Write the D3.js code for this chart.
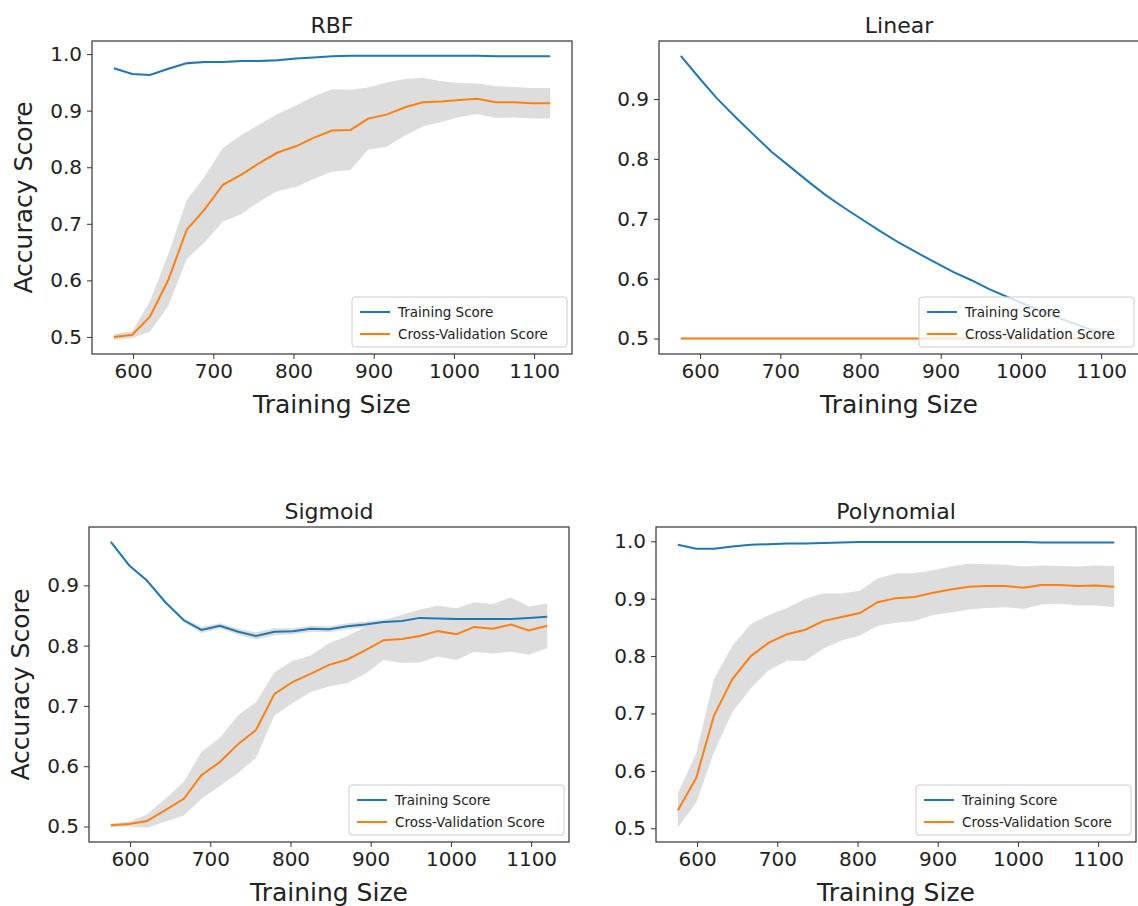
<!DOCTYPE html>
<html>
<head>
<meta charset="utf-8">
<title>Learning curves by kernel</title>
<script src="https://d3js.org/d3.v7.min.js"></script>
<style>
  body { margin: 0; background: #fff; }
  svg text { font-family: "DejaVu Sans", sans-serif; fill: #222; }
</style>
</head>
<body>
<svg width="1138" height="906"></svg>
<script>
// training sizes shared by all four panels
const trainSizes = [576, 599, 621, 644, 667, 689, 712, 735, 757, 780, 803, 825, 848,
                    871, 893, 916, 939, 961, 984, 1007, 1029, 1052, 1075, 1097, 1120];

const seriesNames = ["Training Score", "Cross-Validation Score"];

// RBF
const rbfTrain    = [0.975, 0.965, 0.963, 0.974, 0.984, 0.986, 0.986, 0.988, 0.988, 0.989, 0.992, 0.994, 0.996,
                     0.997, 0.997, 0.997, 0.997, 0.997, 0.997, 0.997, 0.997, 0.996, 0.996, 0.996, 0.996];
const rbfTrainStd = [0.001, 0.001, 0.001, 0.002, 0.003, 0.002, 0.002, 0.002, 0.002, 0.002, 0.001, 0.001, 0.001,
                     0.001, 0.001, 0.001, 0.001, 0.001, 0.001, 0.001, 0.001, 0.001, 0.001, 0.001, 0.001];
const rbfCv       = [0.500, 0.504, 0.536, 0.601, 0.690, 0.725, 0.769, 0.787, 0.807, 0.826, 0.837, 0.852, 0.865,
                     0.866, 0.886, 0.893, 0.906, 0.915, 0.916, 0.919, 0.921, 0.915, 0.915, 0.913, 0.913];
const rbfCvStd    = [0.005, 0.006, 0.027, 0.046, 0.052, 0.058, 0.065, 0.070, 0.068, 0.068, 0.072, 0.073, 0.073,
                     0.071, 0.055, 0.057, 0.050, 0.043, 0.036, 0.030, 0.027, 0.028, 0.027, 0.027, 0.027];

// Linear
const linTrain    = [0.972, 0.935, 0.901, 0.870, 0.840, 0.812, 0.787, 0.762, 0.739, 0.718, 0.698, 0.679, 0.660,
                     0.643, 0.627, 0.611, 0.597, 0.582, 0.569, 0.556, 0.544, 0.532, 0.521, 0.510, 0.500];
const linTrainStd = [0.001, 0.001, 0.001, 0.001, 0.001, 0.001, 0.001, 0.001, 0.001, 0.001, 0.001, 0.001, 0.001,
                     0.001, 0.001, 0.001, 0.001, 0.001, 0.001, 0.001, 0.001, 0.001, 0.001, 0.001, 0.001];
const linCv       = [0.500, 0.500, 0.500, 0.500, 0.500, 0.500, 0.500, 0.500, 0.500, 0.500, 0.500, 0.500, 0.500,
                     0.500, 0.500, 0.500, 0.500, 0.500, 0.500, 0.500, 0.500, 0.500, 0.500, 0.500, 0.500];
const linCvStd    = [0.002, 0.002, 0.002, 0.002, 0.002, 0.002, 0.002, 0.002, 0.002, 0.002, 0.002, 0.002, 0.002,
                     0.002, 0.002, 0.002, 0.002, 0.002, 0.002, 0.002, 0.002, 0.002, 0.002, 0.002, 0.002];

// Sigmoid
const sigTrain    = [0.972, 0.933, 0.908, 0.872, 0.842, 0.826, 0.833, 0.823, 0.816, 0.823, 0.824, 0.828, 0.827,
                     0.832, 0.835, 0.839, 0.841, 0.846, 0.845, 0.844, 0.844, 0.844, 0.844, 0.846, 0.848];
const sigTrainStd = [0.001, 0.001, 0.001, 0.002, 0.003, 0.005, 0.004, 0.005, 0.006, 0.006, 0.005, 0.005, 0.005,
                     0.005, 0.005, 0.004, 0.004, 0.003, 0.003, 0.003, 0.003, 0.003, 0.003, 0.003, 0.003];
const sigCv       = [0.502, 0.504, 0.509, 0.527, 0.546, 0.585, 0.607, 0.637, 0.660, 0.720, 0.740, 0.753, 0.768,
                     0.777, 0.792, 0.809, 0.811, 0.816, 0.824, 0.819, 0.831, 0.828, 0.835, 0.825, 0.833];
const sigCvStd    = [0.003, 0.004, 0.011, 0.019, 0.028, 0.039, 0.040, 0.048, 0.046, 0.036, 0.035, 0.030, 0.036,
                     0.039, 0.039, 0.033, 0.040, 0.044, 0.042, 0.043, 0.041, 0.041, 0.045, 0.040, 0.037];

// Polynomial
const polyTrain    = [0.994, 0.987, 0.987, 0.991, 0.994, 0.995, 0.996, 0.996, 0.997, 0.998, 0.999, 0.999, 0.999,
                      0.999, 0.999, 0.999, 0.999, 0.999, 0.999, 0.999, 0.998, 0.998, 0.998, 0.998, 0.998];
const polyTrainStd = [0.001, 0.001, 0.001, 0.001, 0.001, 0.001, 0.001, 0.001, 0.001, 0.001, 0.001, 0.001, 0.001,
                      0.001, 0.001, 0.001, 0.001, 0.001, 0.001, 0.001, 0.001, 0.001, 0.001, 0.001, 0.001];
const polyCv       = [0.531, 0.588, 0.696, 0.760, 0.800, 0.823, 0.838, 0.846, 0.861, 0.868, 0.875, 0.894, 0.901,
                      0.903, 0.910, 0.916, 0.921, 0.922, 0.922, 0.919, 0.924, 0.924, 0.922, 0.923, 0.921];
const polyCvStd    = [0.030, 0.043, 0.064, 0.058, 0.056, 0.048, 0.046, 0.054, 0.048, 0.041, 0.039, 0.041, 0.043,
                      0.042, 0.039, 0.040, 0.040, 0.038, 0.037, 0.037, 0.034, 0.033, 0.034, 0.035, 0.036];

const panels = [
  { title: "RBF",        train: rbfTrain,  trainStd: rbfTrainStd,  cv: rbfCv,  cvStd: rbfCvStd,  left: 92,  top: 41,  h: 313, ylabel: true },
  { title: "Linear",     train: linTrain,  trainStd: linTrainStd,  cv: linCv,  cvStd: linCvStd,  left: 659, top: 41,  h: 313, ylabel: false },
  { title: "Sigmoid",    train: sigTrain,  trainStd: sigTrainStd,  cv: sigCv,  cvStd: sigCvStd,  left: 89,  top: 527, h: 315, ylabel: true },
  { title: "Polynomial", train: polyTrain, trainStd: polyTrainStd, cv: polyCv, cvStd: polyCvStd, left: 656, top: 527, h: 315, ylabel: false }
];

const svg = d3.select("svg");
const width = 480;
const colors = ["#1f77b4", "#ff7f0e"];

// matplotlib-style 5% margins around the data
function padded(lo, hi) {
  const m = (hi - lo) * 0.05;
  return [lo - m, hi + m];
}

panels.forEach(p => {
  const g = svg.append("g").attr("transform", `translate(${p.left},${p.top})`);
  const height = p.h;

  const rows = trainSizes.map((s, i) => ({
    size: s,
    train: p.train[i], trainStd: p.trainStd[i],
    cv: p.cv[i], cvStd: p.cvStd[i]
  }));

  const lo = d3.min(rows, d => Math.min(d.train - d.trainStd, d.cv - d.cvStd));
  const hi = d3.max(rows, d => Math.max(d.train + d.trainStd, d.cv + d.cvStd));

  const x = d3.scaleLinear().domain(padded(d3.min(trainSizes), d3.max(trainSizes))).range([0, width]);
  const y = d3.scaleLinear().domain(padded(lo, hi)).range([height, 0]);

  // clip to the axes box
  const clipId = "clip-" + p.title;
  g.append("clipPath").attr("id", clipId)
   .append("rect").attr("width", width).attr("height", height);

  const plot = g.append("g").attr("clip-path", `url(#${clipId})`);

  const band = (m, s) => d3.area()
      .x(d => x(d.size))
      .y0(d => y(d[m] - d[s]))
      .y1(d => y(d[m] + d[s]));

  plot.append("path").datum(rows)
      .attr("fill", "#dddddd")
      .attr("d", band("train", "trainStd"));
  plot.append("path").datum(rows)
      .attr("fill", "#dddddd")
      .attr("d", band("cv", "cvStd"));

  ["train", "cv"].forEach((key, k) => {
    plot.append("path").datum(rows)
        .attr("fill", "none")
        .attr("stroke", colors[k])
        .attr("stroke-width", 2)
        .attr("d", d3.line().x(d => x(d.size)).y(d => y(d[key])));
  });

  // axes
  const xAxis = g.append("g")
      .attr("transform", `translate(0,${height})`)
      .call(d3.axisBottom(x).ticks(6).tickFormat(d3.format("d")).tickSize(5).tickPadding(5));
  const yAxis = g.append("g")
      .call(d3.axisLeft(y).ticks(6).tickFormat(d3.format(".1f")).tickSize(5).tickPadding(5));

  [xAxis, yAxis].forEach(a => {
    a.select(".domain").remove();
    a.selectAll(".tick line").attr("stroke", "#333");
    a.selectAll(".tick text").style("font-size", "20px").attr("fill", "#222");
  });

  g.append("rect")
   .attr("width", width).attr("height", height)
   .attr("fill", "none").attr("stroke", "#333").attr("stroke-width", 1.2);

  g.append("text")
   .attr("x", width / 2).attr("y", -8)
   .attr("text-anchor", "middle")
   .style("font-size", "22px")
   .text(p.title);

  g.append("text")
   .attr("x", width / 2).attr("y", height + 59)
   .attr("text-anchor", "middle")
   .style("font-size", "25px")
   .text("Training Size");

  if (p.ylabel) {
    g.append("text")
     .attr("transform", `translate(${-60},${height / 2}) rotate(-90)`)
     .attr("text-anchor", "middle")
     .style("font-size", "25px")
     .text("Accuracy Score");
  }

  // legend, lower right
  const lw = 215, lh = 50;
  const legend = g.append("g")
      .attr("transform", `translate(${width - lw - 5},${height - lh - 7})`);
  legend.append("rect")
      .attr("width", lw).attr("height", lh)
      .attr("rx", 3)
      .attr("fill", "#fff").attr("fill-opacity", 0.8)
      .attr("stroke", "#ccc");
  seriesNames.forEach((name, i) => {
    const ly = 15 + i * 22;
    legend.append("line")
        .attr("x1", 8).attr("x2", 38)
        .attr("y1", ly).attr("y2", ly)
        .attr("stroke", colors[i]).attr("stroke-width", 2);
    legend.append("text")
        .attr("x", 46).attr("y", ly)
        .attr("dy", "0.35em")
        .style("font-size", "13.5px")
        .text(name);
  });
});
</script>
</body>
</html>
